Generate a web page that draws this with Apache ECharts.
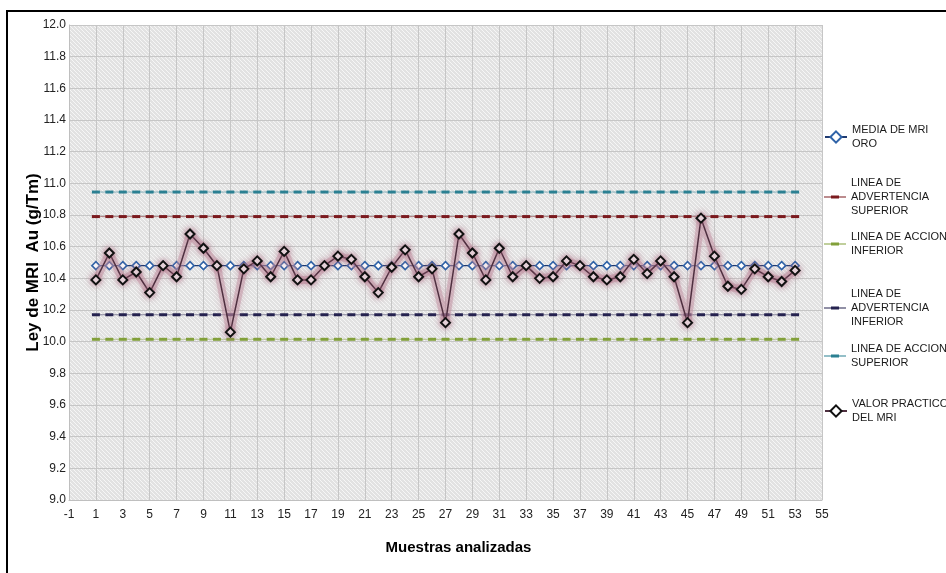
<!DOCTYPE html>
<html>
<head>
<meta charset="utf-8">
<script src="https://cdn.jsdelivr.net/npm/echarts@6/dist/echarts.min.js"></script>
<style>
  html, body { margin: 0; padding: 0; background: #ffffff; }
  #chart { width: 946px; height: 573px; }
</style>
</head>
<body>
<div id="chart"></div>
<script>
// Axis categories (sample numbers shown on the x axis)
const xCategories = ['-1','0','1','2','3','4','5','6','7','8','9','10','11','12','13','14','15','16','17','18','19','20',
  '21','22','23','24','25','26','27','28','29','30','31','32','33','34','35','36','37','38','39','40',
  '41','42','43','44','45','46','47','48','49','50','51','52','53','54','55'];

// Analysed samples
const samples = ['1','2','3','4','5','6','7','8','9','10','11','12','13','14','15','16','17','18','19','20',
  '21','22','23','24','25','26','27','28','29','30','31','32','33','34','35','36','37','38','39','40',
  '41','42','43','44','45','46','47','48','49','50','51','52','53'];

// Measured gold grade of the reference material (g/Tm)
const valorPractico = [10.39, 10.56, 10.39, 10.44, 10.31, 10.48, 10.41, 10.68, 10.59, 10.48,
  10.06, 10.46, 10.51, 10.41, 10.57, 10.39, 10.39, 10.48, 10.54, 10.52,
  10.41, 10.31, 10.47, 10.58, 10.41, 10.46, 10.12, 10.68, 10.56, 10.39,
  10.59, 10.41, 10.48, 10.40, 10.41, 10.51, 10.48, 10.41, 10.39, 10.41,
  10.52, 10.43, 10.51, 10.41, 10.12, 10.78, 10.54, 10.35, 10.33, 10.46,
  10.41, 10.38, 10.45];

// Control limits
const mediaMRI = 10.48;
const advertenciaSuperior = 10.79;
const advertenciaInferior = 10.17;
const accionSuperior = 10.945;
const accionInferior = 10.015;

const yMin = 9.0, yMax = 12.0, yStep = 0.2;

const chart = echarts.init(document.getElementById('chart'), null, { renderer: 'canvas' });

// Diagonal hatch used as plot background
function hatchPattern() {
  const c = document.createElement('canvas');
  c.width = 4; c.height = 4;
  const g = c.getContext('2d');
  g.fillStyle = '#e2e2e2';
  g.fillRect(0, 0, 4, 4);
  g.strokeStyle = '#f6f6f6';
  g.lineWidth = 1;
  g.beginPath();
  g.moveTo(-1, -1); g.lineTo(5, 5);
  g.moveTo(-1, 3); g.lineTo(1, 5);
  g.moveTo(3, -1); g.lineTo(5, 1);
  g.stroke();
  return c;
}

const pairs = (vals) => samples.map((s, i) => [s, vals[i]]);
const flat = (v) => samples.map((s) => [s, v]);

// Legend glyph for the limit lines: thin line with a short bar in the middle
const dashLegendIcon = 'path://M0,0L0,0Z M22,14L22,14Z M0,6.5H22V7.5H0Z M7,5.5H15V8.5H7Z';

function limitSeries(name, value, color) {
  return {
    name: name,
    type: 'line',
    data: flat(value),
    symbol: 'rect',
    symbolSize: [8, 3],
    showSymbol: true,
    showAllSymbol: true,
    lineStyle: { color: color, width: 1, opacity: 0.5 },
    itemStyle: { color: color, borderWidth: 0 },
    emphasis: { disabled: true },
    z: 2
  };
}

const FONT = '"Liberation Sans", Arial, sans-serif';

const legendItems = [
  { name: 'MEDIA DE MRI\nORO', top: 116, lines: 2 },
  { name: 'LINEA DE\nADVERTENCIA\nSUPERIOR', top: 162, lines: 3, dash: true },
  { name: 'LINEA DE ACCION\nINFERIOR', top: 223, lines: 2, dash: true },
  { name: 'LINEA DE\nADVERTENCIA\nINFERIOR', top: 273, lines: 3, dash: true },
  { name: 'LINEA DE ACCION\nSUPERIOR', top: 335, lines: 2, dash: true },
  { name: 'VALOR PRACTICO\nDEL MRI', top: 390, lines: 2 }
];

const LH = 14;

const option = {
  backgroundColor: '#ffffff',
  animation: false,
  textStyle: { fontFamily: FONT },
  graphic: [{
    type: 'rect',
    shape: { x: 7, y: 11, width: 1000, height: 700 },
    style: { fill: null, stroke: '#000000', lineWidth: 2 },
    silent: true,
    z: 100
  }],
  legend: legendItems.map((it) => ({
    data: [it.dash ? { name: it.name, icon: dashLegendIcon } : it.name],
    orient: 'vertical',
    left: 824,
    top: it.top,
    itemWidth: 22,
    itemHeight: 14,
    itemGap: 0,
    padding: 0,
    selectedMode: false,
    textStyle: {
      fontFamily: FONT,
      fontSize: 11,
      color: '#1a1a1a',
      lineHeight: LH,
      padding: [(it.lines - 1) * LH, 0, 0, 0]
    }
  })),
  grid: {
    left: 69,
    right: 124,
    top: 25,
    bottom: 73,
    show: true,
    backgroundColor: { image: hatchPattern(), repeat: 'repeat' },
    borderWidth: 0
  },
  xAxis: {
    type: 'category',
    data: xCategories,
    boundaryGap: false,
    name: 'Muestras analizadas',
    nameLocation: 'middle',
    nameGap: 40,
    nameTextStyle: { fontFamily: FONT, fontSize: 15, fontWeight: 'bold', color: '#000',
      padding: [0, 0, 0, 26] },
    axisLine: { show: true, lineStyle: { color: '#bfbfbf', width: 1 } },
    axisTick: { show: false },
    axisLabel: { interval: 1, margin: 9, fontSize: 12, color: '#222', fontFamily: FONT },
    splitLine: { show: true, interval: 1, lineStyle: { color: '#c6c6c6', width: 1 } }
  },
  yAxis: {
    type: 'value',
    min: yMin,
    max: yMax,
    interval: yStep,
    name: 'Ley de MRI  Au (g/Tm)',
    nameLocation: 'middle',
    nameGap: 27,
    nameMoveOverlap: false,
    nameRotate: 90,
    nameTextStyle: { fontFamily: FONT, fontSize: 17, fontWeight: 'bold', color: '#000' },
    axisLine: { show: true, lineStyle: { color: '#bfbfbf', width: 1 } },
    axisTick: { show: false },
    axisLabel: { margin: 3, fontSize: 12, color: '#222', fontFamily: FONT,
      formatter: (v) => v.toFixed(1) },
    splitLine: { show: true, lineStyle: { color: '#c6c6c6', width: 1 } }
  },
  series: [
    {
      name: 'MEDIA DE MRI\nORO',
      type: 'line',
      data: flat(mediaMRI),
      symbol: 'diamond',
      symbolSize: 8,
      showSymbol: true,
      showAllSymbol: true,
      lineStyle: { color: '#1f3a70', width: 1.3 },
      itemStyle: { color: '#ffffff', borderColor: '#2f63a8', borderWidth: 1.6 },
      emphasis: { disabled: true },
      z: 3
    },
    limitSeries('LINEA DE\nADVERTENCIA\nSUPERIOR', advertenciaSuperior, '#7b1a1e'),
    limitSeries('LINEA DE ACCION\nINFERIOR', accionInferior, '#82a03a'),
    limitSeries('LINEA DE\nADVERTENCIA\nINFERIOR', advertenciaInferior, '#25224f'),
    limitSeries('LINEA DE ACCION\nSUPERIOR', accionSuperior, '#2b8092'),
    {
      // soft halo under the measured values
      name: 'halo',
      type: 'line',
      data: pairs(valorPractico),
      symbol: 'none',
      lineStyle: {
        color: 'rgba(190, 140, 158, 0.45)',
        width: 8,
        shadowColor: 'rgba(185, 125, 145, 0.7)',
        shadowBlur: 7
      },
      emphasis: { disabled: true },
      silent: true,
      z: 4
    },
    {
      name: 'VALOR PRACTICO\nDEL MRI',
      type: 'line',
      data: pairs(valorPractico),
      symbol: 'diamond',
      symbolSize: 9,
      showSymbol: true,
      showAllSymbol: true,
      lineStyle: { color: '#4f3040', width: 1.5 },
      itemStyle: {
        color: '#ffffff',
        borderColor: '#111111',
        borderWidth: 2,
        shadowColor: 'rgba(170, 100, 125, 0.8)',
        shadowBlur: 6
      },
      emphasis: { disabled: true },
      z: 5
    }
  ]
};

chart.setOption(option);
</script>
</body>
</html>
